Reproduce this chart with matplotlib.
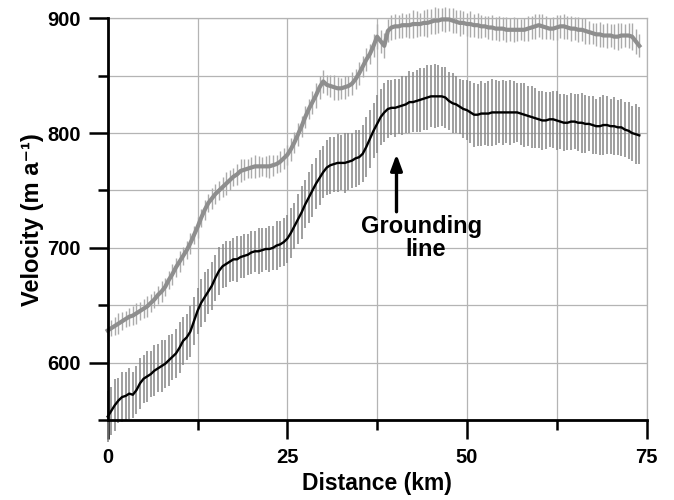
import numpy as np
import matplotlib
matplotlib.use("Agg")
import matplotlib.pyplot as plt
from matplotlib.ticker import FixedLocator

plt.rcParams['font.family'] = ['Liberation Sans', 'DejaVu Sans']
plt.rcParams['font.weight'] = 'bold'

# Distance along flowline (km), 0.5 km sampling
distance = np.arange(0, 74.5, 0.5)

# Lower (black) series: velocity (m/a) and uncertainty
vel_low = [553, 558, 563, 567, 570, 571, 573, 572, 576, 582,
           586, 588, 590, 593, 595, 597, 599, 602, 605, 608,
           613, 619, 622, 627, 636, 645, 652, 657, 662, 667,
           674, 680, 684, 686, 688, 690, 690, 692, 693, 694,
           696, 697, 697, 698, 699, 699, 700, 702, 703, 705,
           708, 713, 719, 725, 731, 738, 744, 750, 756, 761,
           766, 770, 772, 773, 774, 774, 774, 775, 776, 778,
           779, 782, 788, 795, 802, 808, 814, 818, 821, 822,
           822, 823, 824, 825, 827, 827, 828, 829, 830, 831,
           832, 832, 832, 832, 831, 828, 826, 825, 823, 821,
           820, 818, 816, 816, 817, 817, 817, 818, 818, 818,
           818, 818, 818, 818, 818, 817, 816, 815, 814, 813,
           812, 811, 811, 812, 812, 811, 810, 809, 809, 810,
           810, 809, 809, 808, 808, 807, 806, 806, 807, 807,
           806, 806, 805, 805, 803, 802, 800, 799, 798]
err_low = [22, 21, 23, 20, 22, 21, 22, 20, 21, 22,
           21, 22, 20, 22, 21, 23, 21, 22, 20, 21,
           22, 21, 20, 22, 21, 20, 21, 22, 20, 21,
           20, 21, 19, 20, 18, 19, 20, 18, 19, 18,
           19, 18, 20, 19, 18, 20, 19, 21, 20, 21,
           21, 22, 20, 22, 23, 21, 22, 23, 22, 24,
           23, 24, 25, 24, 25, 24, 26, 25, 24, 25,
           24, 25, 26, 25, 24, 25, 24, 26, 25, 24,
           25, 24, 26, 25, 27, 26, 27, 28, 27, 28,
           27, 28, 27, 26, 27, 25, 26, 25, 24, 25,
           26, 27, 28, 27, 28, 27, 28, 29, 28, 27,
           28, 27, 28, 27, 26, 27, 28, 26, 27, 26,
           25, 26, 25, 24, 25, 26, 24, 25, 24, 25,
           24, 25, 26, 25, 24, 25, 24, 25, 26, 25,
           24, 25, 24, 25, 24, 25, 24, 26, 25]

# Upper (grey) series: velocity (m/a) and uncertainty
vel_high = [628, 630, 632, 634, 636, 638, 640, 641, 643, 645,
            647, 649, 652, 655, 659, 662, 666, 672, 677, 683,
            688, 693, 698, 704, 711, 718, 726, 733, 739, 743,
            747, 750, 753, 756, 759, 762, 764, 767, 768, 769,
            770, 771, 771, 771, 771, 771, 772, 773, 775, 778,
            781, 786, 792, 799, 806, 814, 821, 827, 833, 840,
            845, 842, 841, 840, 839, 839, 840, 841, 843, 847,
            852, 858, 864, 869, 876, 884, 880, 876, 889, 892,
            893, 893, 894, 894, 894, 895, 895, 895, 896, 896,
            897, 898, 898, 899, 899, 899, 898, 897, 896, 896,
            895, 895, 894, 894, 893, 893, 892, 892, 891, 891,
            891, 890, 890, 890, 890, 890, 890, 891, 892, 893,
            894, 893, 892, 891, 891, 892, 893, 893, 892, 891,
            891, 890, 890, 889, 888, 887, 886, 886, 885, 885,
            885, 884, 884, 885, 885, 885, 884, 880, 876]
err_high = [8, 7, 8, 9, 8, 7, 8, 8, 9, 8,
            8, 9, 8, 7, 8, 9, 8, 8, 9, 8,
            9, 8, 8, 9, 8, 9, 8, 9, 8, 9,
            9, 8, 9, 10, 9, 8, 9, 10, 9, 8,
            9, 10, 9, 8, 9, 10, 9, 8, 9, 9,
            9, 10, 9, 10, 9, 10, 9, 10, 11, 10,
            10, 9, 10, 11, 10, 9, 10, 9, 10, 9,
            10, 9, 10, 9, 10, 11, 10, 11, 10, 11,
            11, 10, 11, 10, 11, 12, 11, 10, 11, 12,
            11, 12, 11, 10, 11, 10, 11, 10, 11, 10,
            10, 11, 10, 11, 10, 9, 10, 11, 10, 11,
            10, 11, 10, 11, 10, 9, 10, 11, 10, 11,
            10, 11, 10, 9, 10, 11, 10, 11, 10, 11,
            10, 11, 10, 11, 10, 9, 10, 11, 10, 11,
            10, 11, 12, 11, 10, 11, 12, 11, 10]

x_major = [0, 25, 50, 75]
x_minor = [12.5, 37.5, 62.5]
y_major = [600, 700, 800, 900]
y_minor = [550, 650, 750, 850]

fig = plt.figure(figsize=(6.74, 5.0), dpi=100)
ax = fig.add_axes([0.1598, 0.16, 0.7994, 0.8034])

ax.set_xlim(0, 75)
ax.set_ylim(550, 900)

# grid
ax.xaxis.set_major_locator(FixedLocator(x_major))
ax.xaxis.set_minor_locator(FixedLocator(x_minor))
ax.yaxis.set_major_locator(FixedLocator(y_major))
ax.yaxis.set_minor_locator(FixedLocator(y_minor))
ax.grid(which='both', color='#b4b4b4', lw=0.9, zorder=0)
ax.set_axisbelow(True)

# upper grey series
eb1 = ax.errorbar(distance, vel_high, yerr=err_high, fmt='none',
                  ecolor='#ababab', elinewidth=1.0, zorder=2)
for c in eb1[2]:
    c.set_clip_on(False)
ax.plot(distance, vel_high, color='#8e8e8e', lw=3.0, zorder=3,
        clip_on=False)

# lower black series
eb2 = ax.errorbar(distance, vel_low, yerr=err_low, fmt='none',
                  ecolor='#858585', elinewidth=1.1, zorder=2)
for c in eb2[2]:
    c.set_clip_on(False)
ax.plot(distance, vel_low, color='black', lw=1.7, zorder=4, clip_on=False)

# spines
for s in ['top', 'right']:
    ax.spines[s].set_color('#b4b4b4')
    ax.spines[s].set_linewidth(0.9)
for s in ['left', 'bottom']:
    ax.spines[s].set_color('black')
    ax.spines[s].set_linewidth(2.0)
    ax.spines[s].set_zorder(5)

ax.tick_params(which='major', direction='out', length=13.5, width=1.8,
               labelsize=14.5)
ax.tick_params(which='minor', direction='out', length=7, width=1.8)
ax.tick_params(axis='y', which='major', pad=6)
ax.tick_params(axis='x', which='major', pad=6.5)
for lab in ax.get_xticklabels() + ax.get_yticklabels():
    lab.set_fontweight('bold')

ax.set_xlabel('Distance (km)', fontsize=16.5, fontweight='bold', labelpad=4)
ax.set_ylabel('Velocity (m a\u207b\u00b9)', fontsize=17,
              fontweight='bold', labelpad=2)

# grounding line annotation
ax.annotate('', xy=(40.2, 784), xytext=(40.2, 729),
            arrowprops=dict(arrowstyle='-|>,head_width=0.35,head_length=0.95',
                            lw=2.4, color='black'), zorder=6)
ax.text(43.7, 712.5, 'Grounding', ha='center', va='baseline',
        fontsize=17, fontweight='bold', zorder=6)
ax.text(44.2, 692.5, 'line', ha='center', va='baseline',
        fontsize=17, fontweight='bold', zorder=6)

fig.savefig('out.png', dpi=100)
